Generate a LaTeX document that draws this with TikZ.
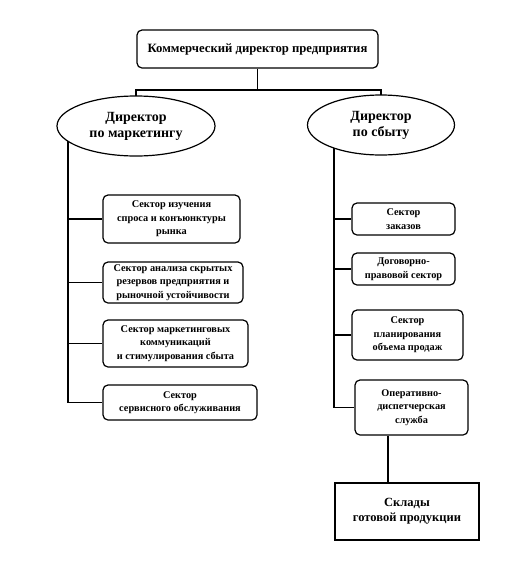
\documentclass[tikz,border=0pt]{standalone}
\usepackage{fontspec}
\setmainfont{Liberation Serif}
\usetikzlibrary{shapes.geometric,backgrounds}
\tikzset{
  conn/.style={line width=1.3pt},
  rbox/.style={draw, line width=1.2pt, rounded corners=5pt, fill=white, align=center, inner sep=0pt,
    font=\bfseries\fontsize{10.3}{13.5}\selectfont},
  ell/.style={draw, ellipse, line width=1.2pt, fill=white, align=center, inner sep=0pt,
    font=\bfseries\fontsize{14}{16}\selectfont},
  sqbox/.style={draw, line width=1.2pt, fill=white, align=center, inner sep=1pt,
    font=\bfseries\fontsize{12.5}{15}\selectfont}
}
\begin{document}
\begin{tikzpicture}[x=1pt,y=-1pt]
\useasboundingbox (0,0) rectangle (531,571);
\node[rbox, minimum width=241pt, minimum height=38pt, font=\bfseries\fontsize{12.7}{15}\selectfont] (top) at (257.5,49) {Коммерческий директор предприятия};
\node[ell, minimum width=158pt, minimum height=60pt] (lE) at (136,126) {Директор\\по маркетингу};
\node[ell, minimum width=147pt, minimum height=60pt] (rE) at (381,125) {Директор\\по сбыту};
% left sectors
\node[rbox, minimum width=137pt, minimum height=48pt] (s1) at (171.5,219) {Сектор изучения\\спроса и конъюнктуры\\рынка};
\node[rbox, minimum width=140pt, minimum height=41pt] (s2) at (173,282.5) {Сектор анализа скрытых\\резервов предприятия и\\рыночной устойчивости};
\node[rbox, minimum width=145pt, minimum height=47pt] (s3) at (175.5,343.5) {Сектор маркетинговых\\коммуникаций\\и стимулирования сбыта};
\node[rbox, minimum width=154pt, minimum height=35pt] (s4) at (180,402.5) {Сектор\\сервисного обслуживания};
% right sectors
\node[rbox, minimum width=103pt, minimum height=32pt] (r1) at (403.5,219) {Сектор\\заказов};
\node[rbox, minimum width=103pt, minimum height=32pt] (r2) at (403.5,269) {Договорно-\\правовой сектор};
\node[rbox, minimum width=111pt, minimum height=50pt] (r3) at (407.5,335) {Сектор\\планирования\\объема продаж};
\node[rbox, minimum width=113pt, minimum height=55pt] (r4) at (411.5,407.5) {Оперативно-\\диспетчерская\\служба};
\node[sqbox, minimum width=144pt, minimum height=57pt] (sk) at (407,511.5) {Склады\\готовой продукции};
\coordinate (jt) at (257.5,90);
\begin{scope}[on background layer]
\draw[conn] (top.south) -- (jt);
\draw[conn] (lE.center) |- (jt) -| (rE.center);
\coordinate (lt) at (68,126);
\coordinate (rt) at (334,125);
\draw[conn] (lt) |- (s4.west);
\draw[conn] (lt |- s1.west) -- (s1.west);
\draw[conn] (lt |- s2.west) -- (s2.west);
\draw[conn] (lt |- s3.west) -- (s3.west);
\draw[conn] (rt) |- (r4.west);
\draw[conn] (rt |- r1.west) -- (r1.west);
\draw[conn] (rt |- r2.west) -- (r2.west);
\draw[conn] (rt |- r3.west) -- (r3.west);
\draw[conn] ([xshift=-23.5pt]r4.south) -- ([xshift=-19pt]sk.north);
\end{scope}
\end{tikzpicture}
\end{document}
